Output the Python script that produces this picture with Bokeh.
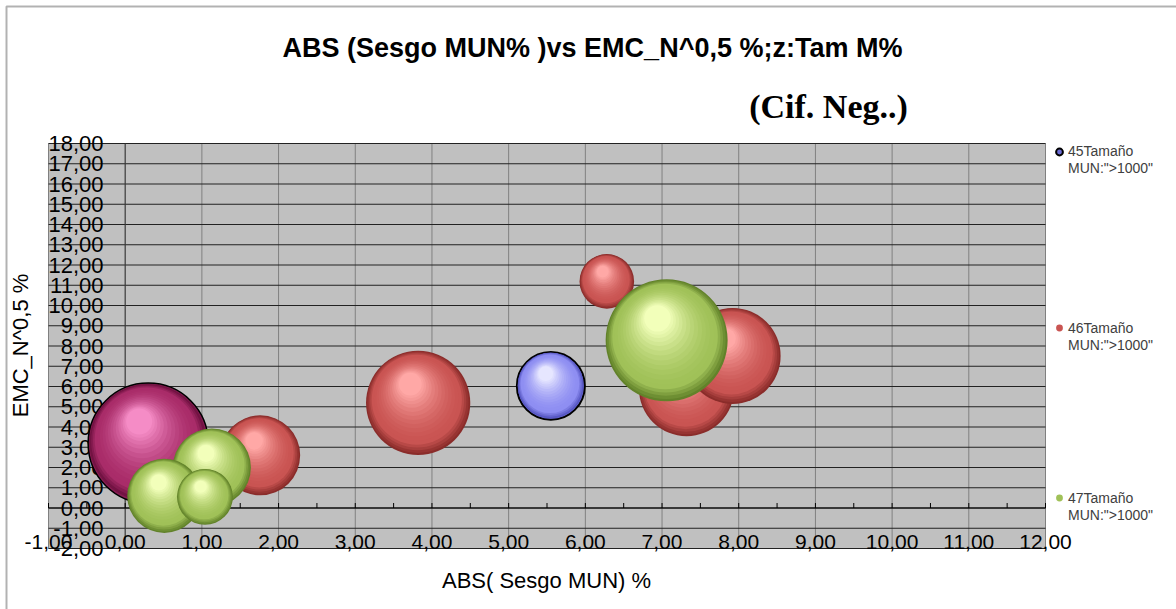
import math
from bokeh.plotting import figure
from bokeh.models import (Range1d, Label, ColumnDataSource, Legend, LegendItem, BoxAnnotation)
from bokeh.core.properties import value
from bokeh.embed import file_html
from bokeh.resources import INLINE

# ---------------- data ----------------
TITLE = "ABS (Sesgo MUN% )vs EMC_N^0,5 %;z:Tam M%"
SUBTITLE = "(Cif. Neg..)"
X_TITLE = "ABS( Sesgo MUN) %"
Y_TITLE = "EMC_N^0,5 %"

series_names = ["45Tamaño", "46Tamaño", "47Tamaño"]
series_sub = 'MUN:">1000"'

# series 45 (blue, one purple point)
s45_x = [5.55, 0.30]
s45_y = [6.03, 3.20]
s45_z = [31, 97]
s45_pal = ["blue", "purple"]
# series 46 (red)
s46_x = [1.76, 3.82, 6.28, 7.32, 7.92]
s46_y = [2.60, 5.19, 11.19, 5.90, 7.51]
s46_z = [43, 73, 20, 61, 62]
# series 47 (green)
s47_x = [1.13, 0.51, 1.04, 7.06]
s47_y = [2.00, 0.60, 0.55, 8.28]
s47_z = [41, 37, 21, 100]

x_ticks = [-1, 0, 1, 2, 3, 4, 5, 6, 7, 8, 9, 10, 11, 12]
x_tick_labels = ["-1,00", "0,00", "1,00", "2,00", "3,00", "4,00", "5,00", "6,00",
                 "7,00", "8,00", "9,00", "10,00", "11,00", "12,00"]
y_ticks = [-2, -1, 0, 1, 2, 3, 4, 5, 6, 7, 8, 9, 10, 11, 12, 13, 14, 15, 16, 17, 18]
y_tick_labels = ["-2,00", "-1,00", "0,00", "1,00", "2,00", "3,00", "4,00", "5,00", "6,00",
                 "7,00", "8,00", "9,00", "10,00", "11,00", "12,00", "13,00", "14,00",
                 "15,00", "16,00", "17,00", "18,00"]
x_minor_ticks = [-1.0, -0.5, 0.0, 0.5, 1.0, 1.5, 2.0, 2.5, 3.0, 3.5, 4.0, 4.5, 5.0, 5.5, 6.0,
                 6.5, 7.0, 7.5, 8.0, 8.5, 9.0, 9.5, 10.0, 10.5, 11.0, 11.5, 12.0]

# ---------------- geometry / style ----------------
W, H = 1176, 609
PL, PR, PT, PB = 48, 1045, 143, 548          # plot-area box in pixels
XMIN, XMAX, YMIN, YMAX = -1, 12, -2, 18
KX = (PR - PL) / (XMAX - XMIN)
KY = (PB - PT) / (YMAX - YMIN)


def dx(px):
    return XMIN + (px - PL) / KX


def dy(py):
    return YMAX - (py - PT) / KY


FONT = "Liberation Sans"

PALETTES = {
    "blue":   ("#4a4ab8", "#8e8ef2", "#e6e6ff"),
    "purple": ("#650d3a", "#a92c69", "#f58cc6"),
    "red":    ("#8a2c2a", "#c95452", "#ffa8a6"),
    "green":  ("#62822a", "#a0c158", "#f2ffba"),
}
OUTLINE = {"blue": 2.0, "purple": 1.5, "red": 0.0, "green": 0.0}


def hex2rgb(h):
    h = h.lstrip("#")
    return tuple(int(h[i:i + 2], 16) for i in (0, 2, 4))


def mix(a, b, t):
    A, B = hex2rgb(a), hex2rgb(b)
    t = max(0.0, min(1.0, t))
    return "#%02x%02x%02x" % tuple(round(A[i] + (B[i] - A[i]) * t) for i in range(3))


R_MAX = 61.0
Z_MAX = max(s45_z + s46_z + s47_z)
LAYER_F = [0.0, 0.03, 0.07, 0.11, 0.15, 0.21, 0.27, 0.33, 0.39, 0.45, 0.51, 0.57, 0.63,
           0.69, 0.74, 0.79, 0.83, 0.87]
MAIN_F = 0.15
MAIN_IDX = LAYER_F.index(MAIN_F)
F_END = LAYER_F[-1]


def bubble_rows(xs, ys, zs, pals):
    rows = dict(x=[], y=[], size=[], color=[], la=[], lw=[])
    for x, y, z, pal in zip(xs, ys, zs, pals):
        r = R_MAX * math.sqrt(z / Z_MAX)
        edge, main, hl = PALETTES[pal]
        outlined = OUTLINE[pal] > 0
        for k, f in enumerate(LAYER_F):
            if f <= MAIN_F:
                col = mix(edge, main, (0.5 if outlined and k == 0 else f / MAIN_F))
            else:
                col = mix(main, hl, ((f - MAIN_F) / (F_END - MAIN_F)) ** 1.7)
            rk = r * (1 - 0.9 * f)
            g = f / F_END
            rows["x"].append(x + (-0.15 * r * g) / KX)
            rows["y"].append(y + (0.36 * r * g) / KY)
            rows["size"].append(2 * rk)
            rows["color"].append(col)
            lw = OUTLINE[pal] if k == 0 else 0.0
            rows["la"].append(1.0 if lw > 0 else 0.0)
            rows["lw"].append(lw)
    return rows


# ---------------- figure (frame = whole canvas) ----------------
p = figure(width=W, height=H, x_range=Range1d(dx(0), dx(W)), y_range=Range1d(dy(H), dy(0)),
           x_axis_type=None, y_axis_type=None, toolbar_location=None, output_backend="svg",
           min_border=0, min_border_left=0, min_border_right=0, min_border_top=0,
           min_border_bottom=0, background_fill_color="white", border_fill_color="white",
           outline_line_color=None)
p.title.visible = False

# outer chart border (top / left visible)
p.add_layout(BoxAnnotation(left=dx(6), right=dx(W + 60), top=dy(6), bottom=dy(H + 60),
                           fill_alpha=0, line_color="#000000", line_width=2))

# plot area
p.add_layout(BoxAnnotation(left=XMIN, right=XMAX, bottom=YMIN, top=YMAX,
                           fill_color="#c0c0c0", fill_alpha=1, line_color="#808080",
                           line_width=1, level="underlay"))

# grid lines
p.segment(x0=x_ticks, y0=[YMIN] * len(x_ticks), x1=x_ticks, y1=[YMAX] * len(x_ticks),
          line_color="#808080", line_width=1)
p.segment(x0=[XMIN] * len(y_ticks), y0=y_ticks, x1=[XMAX] * len(y_ticks), y1=y_ticks,
          line_color="#222222", line_width=1)
# axis lines crossing at 0
p.segment(x0=[0], y0=[YMIN], x1=[0], y1=[YMAX], line_color="#3a3a3a", line_width=1)
p.segment(x0=[XMIN], y0=[0], x1=[XMAX], y1=[0], line_color="#000000", line_width=1)
p.segment(x0=x_minor_ticks, y0=[0] * len(x_minor_ticks), x1=x_minor_ticks,
          y1=[5 / KY] * len(x_minor_ticks), line_color="#000000", line_width=1)

# tick labels (below the bubbles)
p.text(x=x_ticks, y=[dy(541)] * len(x_ticks), text=x_tick_labels, text_align="center",
       text_baseline="middle", text_font=value(FONT), text_font_size=value("21px"),
       text_color="#000000")
p.text(x=[dx(103)] * len(y_ticks), y=y_ticks, text=y_tick_labels, text_align="right",
       text_baseline="middle", text_font=value(FONT), text_font_size=value("22px"),
       text_color="#000000")

# bubbles, series by series
src45 = ColumnDataSource(bubble_rows(s45_x, s45_y, s45_z, s45_pal))
src46 = ColumnDataSource(bubble_rows(s46_x, s46_y, s46_z, ["red"] * len(s46_x)))
src47 = ColumnDataSource(bubble_rows(s47_x, s47_y, s47_z, ["green"] * len(s47_x)))
kw = dict(marker="circle", size="size", fill_color="color", line_color="#000000",
          line_alpha="la", line_width="lw")
r45 = p.scatter("x", "y", source=src45, **kw)
r46 = p.scatter("x", "y", source=src46, **kw)
r47 = p.scatter("x", "y", source=src47, **kw)
blank = p.scatter(x=[], y=[], marker="circle", size=1, fill_alpha=0, line_alpha=0)

# titles
p.add_layout(Label(x=dx(592), y=dy(47), text=TITLE, text_align="center",
                   text_baseline="middle", text_font=FONT, text_font_style="bold",
                   text_font_size="27px", text_color="#000000"))
p.add_layout(Label(x=dx(828), y=dy(106), text=SUBTITLE, text_align="center",
                   text_baseline="middle", text_font="Liberation Serif",
                   text_font_style="bold", text_font_size="34px", text_color="#000000"))
p.add_layout(Label(x=dx(546), y=dy(580), text=X_TITLE, text_align="center",
                   text_baseline="middle", text_font=FONT, text_font_size="22px",
                   text_color="#000000"))
p.add_layout(Label(x=dx(20), y=dy(345), text=Y_TITLE, text_align="center",
                   text_baseline="middle", text_font=FONT, text_font_size="22px",
                   text_color="#000000", angle=math.pi / 2))

# legends (one per series, stacked on the right)
LEG_X = 1050
for name, rend, idx, center in [(series_names[0], r45, 0, 151),
                                (series_names[1], r46, MAIN_IDX, 327.5),
                                (series_names[2], r47, MAIN_IDX, 497.5)]:
    leg = Legend(items=[LegendItem(label=name, renderers=[rend], index=idx),
                        LegendItem(label=series_sub, renderers=[blank])],
                 location=(LEG_X, H - 34 - (center - 8.5)), orientation="vertical",
                 spacing=0, padding=0, margin=0, glyph_width=18, glyph_height=17,
                 label_height=17, label_standoff=0, label_text_font=FONT,
                 label_text_font_size="14px", label_text_color="#404040",
                 border_line_color=None, background_fill_alpha=0)
    p.add_layout(leg)

open("out.html", "w").write(file_html(p, INLINE))
